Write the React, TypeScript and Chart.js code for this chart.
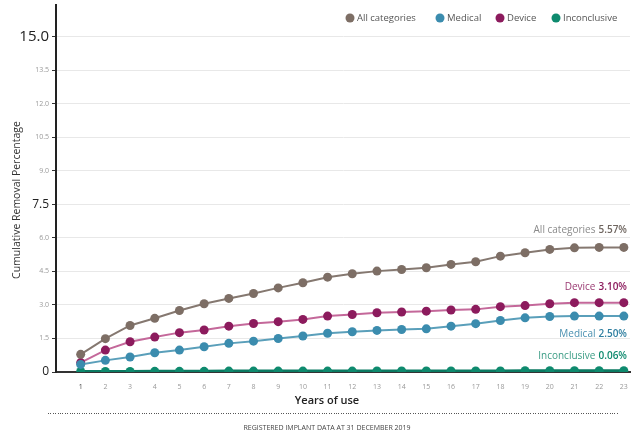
import React, { useEffect, useRef } from "react";
import { Chart, registerables } from "chart.js";

Chart.register(...registerables);

const years = [1, 2, 3, 4, 5, 6, 7, 8, 9, 10, 11, 12, 13, 14, 15, 16, 17, 18, 19, 20, 21, 22, 23];
const allCategories = [0.79, 1.49, 2.08, 2.4, 2.75, 3.05, 3.29, 3.51, 3.76, 3.99, 4.24, 4.39, 4.51, 4.58, 4.66, 4.81, 4.93, 5.18, 5.33, 5.48, 5.55, 5.57, 5.57];
const medical = [0.34, 0.52, 0.67, 0.86, 0.98, 1.13, 1.28, 1.38, 1.5, 1.61, 1.73, 1.8, 1.86, 1.9, 1.93, 2.05, 2.16, 2.3, 2.42, 2.48, 2.5, 2.5, 2.5];
const device = [0.42, 0.98, 1.35, 1.56, 1.76, 1.88, 2.05, 2.17, 2.25, 2.35, 2.5, 2.57, 2.65, 2.68, 2.72, 2.77, 2.8, 2.92, 2.97, 3.05, 3.1, 3.1, 3.1];
const inconclusive = [0.02, 0.02, 0.02, 0.03, 0.03, 0.03, 0.04, 0.04, 0.04, 0.04, 0.04, 0.04, 0.05, 0.05, 0.05, 0.05, 0.05, 0.05, 0.06, 0.06, 0.06, 0.06, 0.06];
const yTicks = [0, 1.5, 3, 4.5, 6, 7.5, 9, 10.5, 12, 13.5, 15];
const endLabels = ["5.57%", "2.50%", "3.10%", "0.06%"];
const seriesNames = ["All categories", "Medical", "Device", "Inconclusive"];
const xTitle = "Years of use";
const yTitle = "Cumulative Removal Percentage";
const footer = "REGISTERED IMPLANT DATA AT 31 DECEMBER 2019";

const FONT = "'Open Sans', 'Noto Sans', sans-serif";

const pointColors = ["#7d6e65", "#3b8cae", "#8c1b5d", "#0e8a6e"];
const lineColors = ["#857870", "#5a9fba", "#c4689a", "#0b7a62"];
const nameColors = ["#8a8a8a", "#4a90b0", "#9a3a72", "#3a9c84"];
const valueColors = ["#6f6660", "#2f7fa0", "#8c1b5d", "#0e8a6e"];
const labelOffsets = [-17, 18, -16, -15];
const legendCenters = [350, 440, 500, 556];

const toXY = (arr: number[]) => arr.map((v, i) => ({ x: years[i], y: v }));

const extrasPlugin = {
  id: "extras",
  afterDatasetsDraw(chart: any) {
    const ctx = chart.ctx;
    ctx.save();
    chart.data.datasets.forEach((ds: any, i: number) => {
      const meta = chart.getDatasetMeta(i);
      const last = meta.data[meta.data.length - 1];
      if (!last) return;
      const xr = 627;
      const y = last.y + labelOffsets[i];
      ctx.textBaseline = "middle";
      ctx.textAlign = "right";
      ctx.font = `600 10px ${FONT}`;
      ctx.fillStyle = valueColors[i];
      ctx.fillText(endLabels[i], xr, y);
      const w = ctx.measureText(endLabels[i]).width;
      ctx.font = `400 10px ${FONT}`;
      ctx.fillStyle = nameColors[i];
      ctx.fillText(seriesNames[i], xr - w - 3, y);
    });
    ctx.restore();
  },
  afterDraw(chart: any) {
    const ctx = chart.ctx;
    ctx.save();
    // legend
    ctx.textBaseline = "middle";
    ctx.textAlign = "left";
    ctx.font = `400 9.5px ${FONT}`;
    seriesNames.forEach((name, i) => {
      const cx = legendCenters[i];
      ctx.fillStyle = pointColors[i];
      ctx.beginPath();
      ctx.arc(cx, 18, 4.5, 0, Math.PI * 2);
      ctx.fill();
      ctx.fillStyle = "#555";
      ctx.fillText(name, cx + 7, 18);
    });
    // x title
    ctx.fillStyle = "#222";
    ctx.font = `600 11px ${FONT}`;
    ctx.textAlign = "center";
    ctx.fillText(xTitle, 327, 401);
    // y title
    ctx.save();
    ctx.translate(17, 200);
    ctx.rotate(-Math.PI / 2);
    ctx.font = `400 10.5px ${FONT}`;
    ctx.fillStyle = "#333";
    ctx.fillText(yTitle, 0, 0);
    ctx.restore();
    // dotted line
    ctx.fillStyle = "#555";
    for (let x = 48; x <= 618; x += 2.4) {
      ctx.fillRect(Math.round(x), 413, 1, 1);
    }
    // footer
    ctx.font = `400 7px ${FONT}`;
    ctx.fillStyle = "#444";
    ctx.fillText(footer, 327, 428);
    ctx.restore();
  },
};

export default function App() {
  const ref = useRef<HTMLCanvasElement | null>(null);
  useEffect(() => {
    if (!ref.current) return;
    const datasets = [allCategories, medical, device, inconclusive].map((arr, i) => ({
      label: seriesNames[i],
      data: toXY(arr),
      borderColor: lineColors[i],
      backgroundColor: pointColors[i],
      pointBackgroundColor: pointColors[i],
      pointBorderColor: pointColors[i],
      pointRadius: 4.5,
      pointBorderWidth: 0,
      borderWidth: i === 3 ? 3 : 2,
      tension: 0,
    }));
    const chart = new Chart(ref.current, {
      type: "line",
      data: { datasets },
      plugins: [extrasPlugin],
      options: {
        animation: false,
        responsive: true,
        maintainAspectRatio: false,
        layout: { padding: { left: 0, right: 6, top: 3, bottom: 0 } },
        plugins: {
          tooltip: { enabled: false },
          legend: { display: false },
        },
        scales: {
          x: {
            type: "linear",
            min: 0,
            max: 23.25,
            afterFit: (s: any) => {
              s.height = 66;
              s.paddingLeft = 0;
              s.paddingRight = 0;
            },
            afterBuildTicks: (s: any) => {
              s.ticks = years.map((v) => ({ value: v }));
            },
            grid: { display: false, drawTicks: false, tickLength: 0 },
            border: { display: true, color: "#333", width: 2 },
            ticks: {
              padding: 11,
              autoSkip: false,
              maxRotation: 0,
              font: { family: FONT, size: 7 },
              color: (c: any) => (c.tick && c.tick.value === 1 ? "#444" : "#999"),
              callback: (v: any) => String(v),
            },
          },
          y: {
            type: "linear",
            min: 0,
            max: 16.43,
            afterFit: (s: any) => {
              s.width = 56;
              s.paddingTop = 0;
              s.paddingBottom = 0;
            },
            afterBuildTicks: (s: any) => {
              s.ticks = yTicks.map((v) => ({ value: v }));
            },
            grid: {
              color: (c: any) => (c.tick && c.tick.value === 0 ? "rgba(0,0,0,0)" : "#e8e8e8"),
              tickColor: "#333",
              tickLength: 4,
              lineWidth: 1,
            },
            border: { display: true, color: "#222", width: 2 },
            ticks: {
              padding: 3,
              autoSkip: false,
              callback: (v: any) => (v === 0 ? "0" : Number(v).toFixed(1)),
              font: (c: any) => {
                const v = c.tick ? c.tick.value : 0;
                if (v === 15) return { family: FONT, size: 15, weight: "500" };
                if (v === 7.5 || v === 0) return { family: FONT, size: 12, weight: "400" };
                return { family: FONT, size: 7 };
              },
              color: (c: any) => {
                const v = c.tick ? c.tick.value : 0;
                return v === 15 || v === 7.5 || v === 0 ? "#222" : "#999";
              },
            },
          },
        },
      },
    });
    return () => chart.destroy();
  }, []);
  return (
    <div style={{ position: "fixed", left: 0, top: 0, width: 636, height: 438, background: "#fff" }}>
      <canvas ref={ref} width={636} height={438} />
    </div>
  );
}
